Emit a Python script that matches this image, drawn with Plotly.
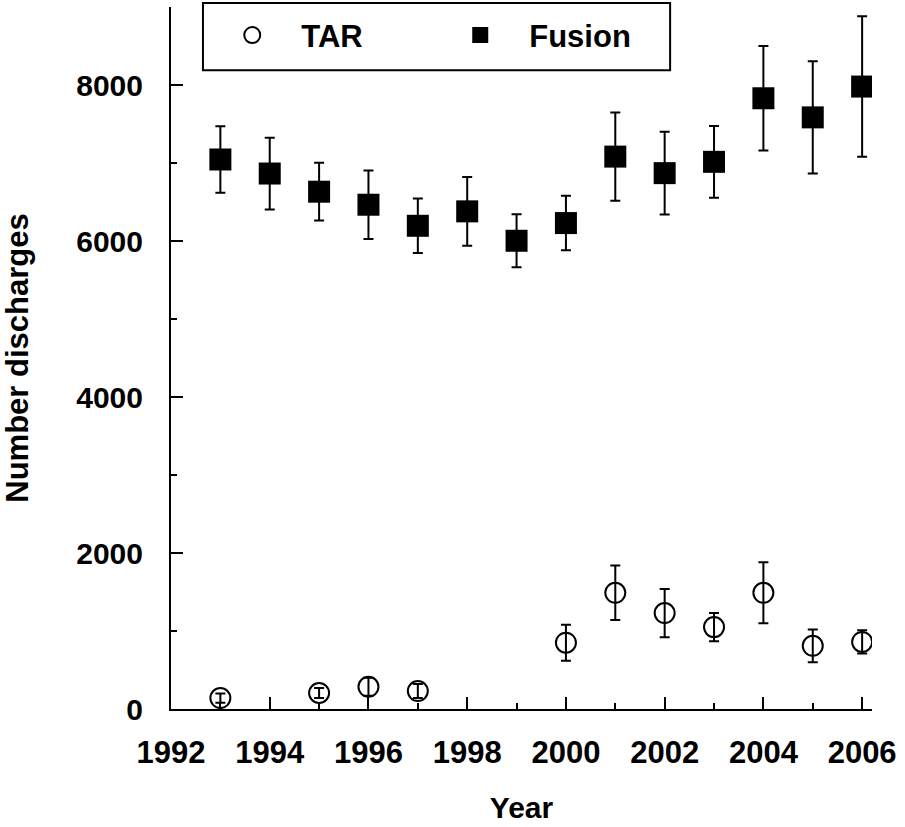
import plotly.graph_objects as go

years_tar = [1993, 1995, 1996, 1997, 2000, 2001, 2002, 2003, 2004, 2005, 2006]
tar_values = [140, 205, 285, 230, 850, 1490, 1230, 1050, 1490, 810, 860]
tar_errors = [60, 65, 115, 90, 230, 350, 310, 180, 390, 210, 150]

years_fusion = [1993, 1994, 1995, 1996, 1997, 1998, 1999, 2000, 2001, 2002, 2003, 2004, 2005, 2006]
fusion_values = [7045, 6865, 6632, 6465, 6195, 6380, 6003, 6230, 7082, 6870, 7015, 7830, 7585, 7980]
fusion_errors = [425, 460, 370, 440, 350, 440, 340, 350, 565, 530, 460, 670, 720, 900]

FONT = "Liberation Sans, Arial, Helvetica, sans-serif"

fig = go.Figure()
fig.add_trace(go.Scatter(
    x=years_tar, y=tar_values, mode="markers", name="TAR",
    marker=dict(symbol="circle-open", size=20, color="black", line=dict(width=2, color="black")),
    error_y=dict(type="data", array=tar_errors, visible=True, color="black", thickness=2, width=5),
))
fig.add_trace(go.Scatter(
    x=years_fusion, y=fusion_values, mode="markers", name="Fusion",
    marker=dict(symbol="square", size=22, color="black"),
    error_y=dict(type="data", array=fusion_errors, visible=True, color="black", thickness=2, width=5),
))

# legend frame (drawn as a shape so its size matches the original)
fig.add_shape(type="rect", xref="paper", yref="paper",
              x0=0.0456, x1=0.712, y0=0.910, y1=1.0057,
              line=dict(color="black", width=2), fillcolor="rgba(0,0,0,0)", layer="above")

fig.update_layout(
    width=905, height=827,
    margin=dict(l=171, r=33, t=7, b=118),
    paper_bgcolor="white", plot_bgcolor="white",
    font=dict(family=FONT, size=30, color="black", weight="bold"),
    showlegend=True,
    legend=dict(
        orientation="h", x=0.046, y=0.998, xanchor="left", yanchor="top",
        borderwidth=0, bgcolor="rgba(0,0,0,0)",
        font=dict(family=FONT, size=31, color="black", weight="bold"),
        itemwidth=88, entrywidth=125, entrywidthmode="pixels",
    ),
    xaxis=dict(
        range=[1992, 2006.2], tick0=1992, dtick=2,
        showline=True, linecolor="black", linewidth=2, mirror=False,
        showgrid=False, zeroline=False,
        ticks="inside", ticklen=12, tickwidth=2, tickcolor="black",
        minor=dict(dtick=1, tick0=1992, ticks="inside", ticklen=6, tickwidth=2, tickcolor="black", showgrid=False),
        tickfont=dict(family=FONT, size=31, color="black", weight="bold"),
        ticklabelstandoff=15,
        title=dict(text="Year", font=dict(family=FONT, size=30, color="black", weight="bold"), standoff=28),
    ),
    yaxis=dict(
        range=[0, 9000], tick0=0, dtick=2000,
        showline=True, linecolor="black", linewidth=2, mirror=False,
        showgrid=False, zeroline=False,
        ticks="inside", ticklen=12, tickwidth=2, tickcolor="black",
        minor=dict(dtick=1000, tick0=0, ticks="inside", ticklen=6, tickwidth=2, tickcolor="black", showgrid=False),
        tickfont=dict(family=FONT, size=30, color="black", weight="bold"),
        ticklabelstandoff=20,
        title=dict(text="Number discharges", font=dict(family=FONT, size=31, color="black", weight="bold"), standoff=38),
    ),
)

fig.write_html("out.html")
